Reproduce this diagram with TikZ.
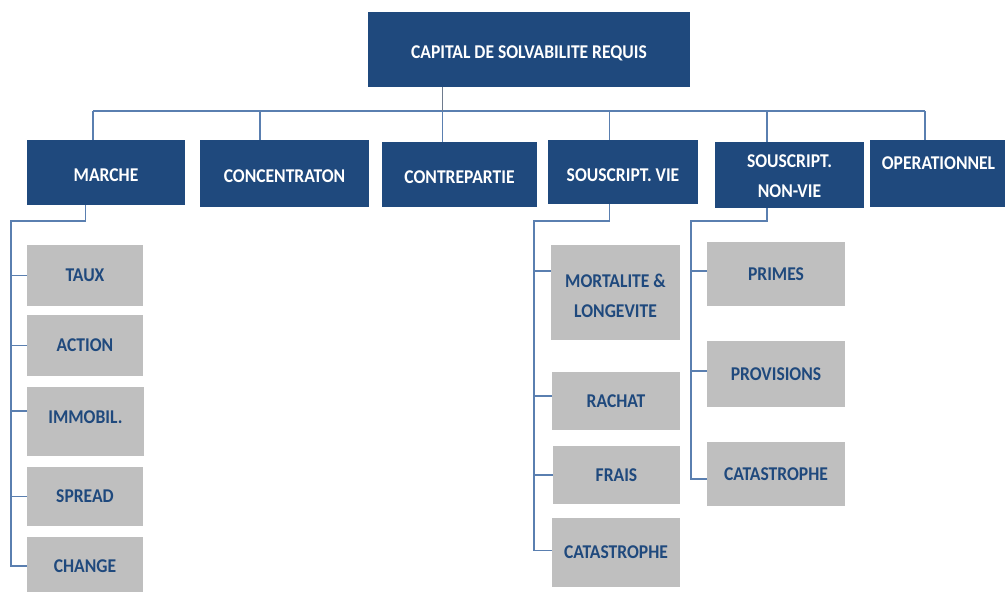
\documentclass[tikz,border=0pt]{standalone}
\usepackage{fontspec}
\usetikzlibrary{calc}
\newfontfamily\labfont[FakeStretch=0.9]{Carlito}
\definecolor{navy}{HTML}{1F497D}
\definecolor{leafgray}{HTML}{BFBFBF}
\definecolor{linkblue}{HTML}{5A7FB0}
\definecolor{trunkgray}{HTML}{6E7B8E}
\tikzset{
  base/.style={inner sep=0pt, outer sep=0pt, align=center,
    font=\labfont\bfseries\fontsize{19.5}{30}\selectfont},
  bluebox/.style={base, fill=navy, text=white},
  lowtext/.style={text height=18.2pt, text depth=0pt},
  graybox/.style={base, fill=leafgray, text=navy},
  conn/.style={draw=linkblue, line width=1.8pt},
}
\begin{document}
\begin{tikzpicture}[x=1pt,y=-1pt]
\useasboundingbox (0,0) rectangle (1005,592);
\fill[white] (0,0) rectangle (1005,592);
% top
\node[bluebox, lowtext, minimum width=322pt, minimum height=75pt] (top) at (529,49.5) {CAPITAL DE SOLVABILITE REQUIS};
% level 1
\node[bluebox, lowtext, minimum width=158pt, minimum height=65pt] (marche) at (106,172.5) {MARCHE};
\node[bluebox, lowtext, minimum width=169pt, minimum height=67pt] (conc) at (284.5,173.5) {CONCENTRATON};
\node[bluebox, lowtext, minimum width=155pt, minimum height=65pt] (contre) at (459.5,174.5) {CONTREPARTIE};
\node[bluebox, lowtext, minimum width=150pt, minimum height=64pt] (svie) at (623,172) {SOUSCRIPT. VIE};
\node[bluebox, minimum width=149pt, minimum height=66pt] (snv) at (789.5,175) {\rule{0pt}{16pt}SOUSCRIPT.\\NON-VIE};
\node[bluebox, text height=12.5pt, text depth=21pt, minimum width=137pt, minimum height=67pt] (oper) at (938.5,173.5) {OPERATIONNEL};
% leaves marche
\node[graybox, minimum width=116pt, minimum height=61pt] (taux) at (85,275.5) {TAUX};
\node[graybox, minimum width=116pt, minimum height=61pt] (action) at (85,345.5) {ACTION};
\node[graybox, text height=12.5pt, text depth=8pt, minimum width=117pt, minimum height=69pt] (immo) at (85.5,421.5) {IMMOBIL.};
\node[graybox, minimum width=116pt, minimum height=59pt] (spread) at (85,496.5) {SPREAD};
\node[graybox, minimum width=116pt, minimum height=58pt] (change) at (85,566) {CHANGE};
% leaves vie
\node[graybox, minimum width=129pt, minimum height=95pt] (mort) at (615.5,292.5) {\rule{0pt}{20pt}MORTALITE \&\\LONGEVITE};
\node[graybox, minimum width=128pt, minimum height=58pt] (rachat) at (616,401) {RACHAT};
\node[graybox, minimum width=127pt, minimum height=58pt] (frais) at (616.5,475) {FRAIS};
\node[graybox, minimum width=128pt, minimum height=69pt] (catv) at (616,552.5) {CATASTROPHE};
% leaves non-vie
\node[graybox, minimum width=138pt, minimum height=64pt] (primes) at (776,274) {PRIMES};
\node[graybox, minimum width=138pt, minimum height=66pt] (prov) at (776,374) {PROVISIONS};
\node[graybox, minimum width=138pt, minimum height=64pt] (catnv) at (776,474) {CATASTROPHE};
% bus coordinates
\coordinate (bus) at (0,111);
\coordinate (mtop) at ($(marche.north west)!0.42!(marche.north east)$);
\coordinate (ctop) at ($(conc.north west)!0.355!(conc.north east)$);
\coordinate (cptop) at ($(contre.north west)!0.39!(contre.north east)$);
\coordinate (svtop) at ($(svie.north west)!0.41!(svie.north east)$);
\coordinate (snvtop) at ($(snv.north west)!0.35!(snv.north east)$);
\coordinate (optop) at ($(oper.north west)!0.40!(oper.north east)$);
\draw[conn] (bus -| mtop) -- (bus -| optop);
\draw[draw=trunkgray, line width=1.8pt] (top.south -| cptop) -- (bus -| cptop);
\foreach \c in {mtop,ctop,cptop,svtop,snvtop,optop}
  \draw[conn] (bus -| \c) -- (\c);
% marche subtree
\coordinate (mbot) at ($(marche.south west)!0.37!(marche.south east)$);
\coordinate (mrail) at (11,221);
\draw[conn] (mbot) |- (mrail) |- (change.west);
\foreach \n in {taux,action,spread}
  \draw[conn] (mrail |- \n.west) -- (\n.west);
\draw[conn] (mrail |- {$(immo.west)+(0,10.5pt)$}) -- ([yshift=10.5pt]immo.west);
% vie subtree
\coordinate (svbot) at ($(svie.south west)!0.41!(svie.south east)$);
\coordinate (vrail) at (534,221);
\draw[conn] (svbot) |- (vrail) |- ([yshift=2pt]catv.west);
\draw[conn] (vrail |- {$(mort.west)+(0,21.5pt)$}) -- ([yshift=21.5pt]mort.west);
\draw[conn] (vrail |- {$(rachat.west)+(0,5pt)$}) -- ([yshift=5pt]rachat.west);
\draw[conn] (vrail |- frais.west) -- (frais.west);
% non-vie subtree
\coordinate (snvbot) at ($(snv.south west)!0.35!(snv.south east)$);
\coordinate (nrail) at (691,221);
\draw[conn] (snvbot) |- (nrail) |- ([yshift=-5pt]catnv.west);
\draw[conn] (nrail |- {$(primes.west)+(0,3pt)$}) -- ([yshift=3pt]primes.west);
\draw[conn] (nrail |- {$(prov.west)+(0,3pt)$}) -- ([yshift=3pt]prov.west);
\end{tikzpicture}
\end{document}
